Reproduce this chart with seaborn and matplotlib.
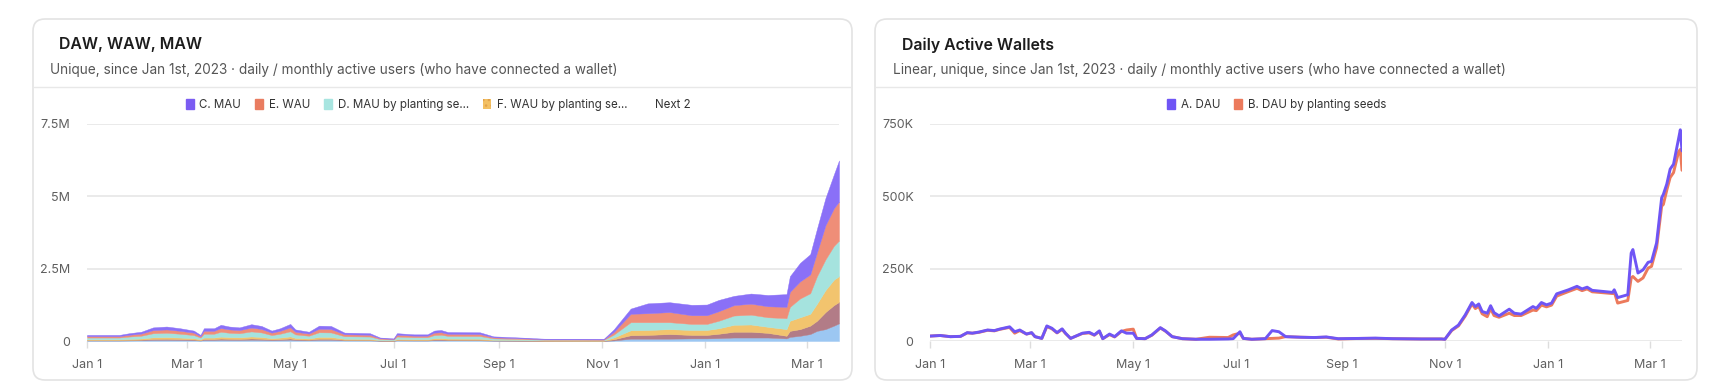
import numpy as np
import pandas as pd
import seaborn as sns
import matplotlib.pyplot as plt
import matplotlib.dates as mdates
from matplotlib.patches import FancyBboxPatch, Patch
from matplotlib.ticker import FuncFormatter

START = pd.Timestamp('2023-01-01')

# left chart: stacked layers, thousands of wallets, days counted from Jan 1 2023
stack_days = [0, 19, 25, 32, 39, 47, 55, 63, 67, 69,
              75, 79, 84, 90, 97, 103, 109, 114, 120, 123,
              131, 137, 144, 152, 167, 173, 181, 183, 193, 201,
              205, 209, 213, 232, 240, 256, 270, 302, 305, 311,
              321, 331, 344, 357, 366, 373, 382, 392, 402, 413,
              415, 421, 427, 431, 436, 441, 444]
next_a = [17, 17, 22, 26, 38, 40, 35, 29, 17, 35,
          35, 45, 40, 38, 46, 42, 29, 35, 47, 32,
          26, 42, 42, 23, 22, 10, 7, 22, 18, 18,
          29, 30, 25, 24, 13, 10, 6, 6, 6, 20,
          80, 80, 80, 90, 90, 100, 120, 120, 120, 90,
          140, 180, 240, 350, 410, 530, 610]
next_b = [15, 15, 19, 22, 33, 35, 31, 25, 15, 31,
          31, 39, 35, 33, 41, 36, 25, 31, 41, 28,
          22, 37, 36, 20, 19, 8, 6, 19, 16, 16,
          25, 27, 22, 21, 11, 8, 6, 5, 5, 40,
          120, 130, 160, 120, 120, 150, 200, 200, 160, 90,
          210, 230, 290, 350, 590, 710, 740]
wau_seeds = [25, 25, 32, 38, 56, 60, 53, 43, 25, 53,
             53, 67, 60, 56, 70, 62, 43, 53, 71, 48,
             38, 64, 62, 35, 32, 14, 11, 32, 28, 28,
             43, 46, 37, 36, 19, 14, 10, 8, 8, 60,
             170, 170, 170, 170, 170, 190, 240, 250, 210, 230,
             350, 410, 410, 590, 760, 880, 890]
mau_seeds = [63, 63, 81, 96, 141, 150, 132, 108, 63, 132,
             132, 168, 150, 141, 174, 156, 108, 132, 177, 120,
             96, 159, 156, 87, 81, 36, 27, 81, 69, 69,
             108, 114, 93, 90, 48, 36, 24, 21, 21, 100,
             280, 270, 240, 210, 210, 260, 320, 340, 330, 380,
             480, 650, 710, 950, 1060, 1170, 1230]
wau = [48, 48, 62, 74, 108, 115, 101, 83, 48, 101,
       101, 129, 115, 108, 133, 120, 83, 101, 136, 92,
       74, 122, 120, 67, 62, 28, 21, 62, 53, 53,
       83, 87, 71, 69, 37, 28, 18, 16, 16, 90,
       290, 310, 350, 300, 300, 330, 360, 380, 380, 390,
       520, 590, 650, 820, 1180, 1300, 1350]
mau = [42, 42, 54, 64, 94, 100, 88, 72, 42, 88,
       88, 112, 100, 94, 116, 104, 72, 88, 118, 80,
       64, 106, 104, 58, 54, 24, 18, 54, 46, 46,
       72, 76, 62, 60, 32, 24, 16, 14, 14, 90,
       180, 340, 340, 360, 370, 390, 320, 350, 390, 440,
       540, 640, 700, 820, 940, 1170, 1420]

# right chart: daily active wallets, thousands
dau_days = [0, 6, 12, 18, 22, 25, 29, 34, 38, 41,
            47, 50, 53, 57, 60, 62, 66, 69, 72, 75,
            78, 80, 83, 90, 94, 97, 100, 102, 106, 109,
            113, 116, 120, 122, 127, 131, 136, 139, 143, 149,
            157, 165, 176, 179, 183, 185, 190, 198, 202, 206,
            210, 219, 227, 234, 241, 255, 263, 273, 290, 302,
            304, 308, 312, 316, 320, 322, 324, 326, 329, 331,
            333, 336, 342, 345, 349, 356, 358, 361, 364, 367,
            370, 373, 377, 382, 385, 388, 391, 403, 404, 406,
            412, 414, 415, 418, 421, 424, 426, 429, 432, 433,
            435, 437, 439, 442, 443, 444]
dau = [17, 19, 15, 16, 29, 27, 31, 38, 36, 41,
       49, 32, 38, 24, 29, 15, 9, 52, 44, 29,
       42, 27, 9, 27, 30, 21, 35, 8, 24, 15,
       35, 27, 27, 9, 8, 21, 46, 35, 15, 8,
       6, 6, 7, 8, 32, 9, 6, 8, 36, 32,
       15, 13, 12, 14, 8, 9, 10, 8, 7, 7,
       6, 38, 55, 90, 133, 119, 128, 102, 96, 122,
       98, 87, 110, 96, 93, 119, 113, 133, 125, 131,
       163, 169, 177, 189, 180, 186, 175, 168, 177, 150,
       160, 304, 316, 235, 246, 272, 275, 339, 495, 507,
       542, 594, 611, 700, 730, 657]
dau_seeds = [17, 19, 15, 16, 28, 27, 30, 37, 35, 40,
             47, 27, 36, 24, 28, 15, 9, 50, 42, 28,
             40, 26, 9, 26, 28, 20, 33, 8, 22, 14,
             33, 38, 41, 9, 8, 20, 45, 34, 15, 8,
             6, 13, 12, 21, 27, 9, 6, 8, 9, 10,
             15, 13, 12, 13, 7, 9, 9, 8, 7, 7,
             6, 36, 52, 86, 128, 112, 120, 94, 84, 112,
             88, 82, 96, 88, 88, 107, 105, 124, 118, 124,
             155, 162, 171, 182, 174, 180, 170, 164, 170, 131,
             140, 218, 223, 206, 218, 252, 258, 322, 466, 472,
             521, 565, 582, 654, 662, 590]

stack_dates = START + pd.to_timedelta(stack_days, unit='D')
dau_dates = START + pd.to_timedelta(dau_days, unit='D')

# bottom to top
layers = [next_a, next_b, wau_seeds, mau_seeds, wau, mau]
layer_colors = ['#9CC7F2', '#B27C87', '#F2C46E', '#A5E3DE', '#EF8E78', '#8A70F7']

sns.set_theme(style='white')
plt.rcParams['font.family'] = ['Inter', 'DejaVu Sans']

fig = plt.figure(figsize=(17.2, 3.91), dpi=100)

# pixel-space background for the two cards
bg = fig.add_axes([0, 0, 1, 1], zorder=-1)
bg.set_xlim(0, 1720)
bg.set_ylim(391, 0)
bg.axis('off')


def card(x0, x1, title, subtitle, title_x, sub_x):
    bg.add_patch(FancyBboxPatch((x0, 19), x1 - x0, 361,
                                boxstyle='round,pad=0,rounding_size=12',
                                fc='white', ec='#E3E3E3', lw=1.2))
    bg.plot([x0 + 1, x1 - 1], [87, 87], color='#E8E8E8', lw=1)
    bg.text(title_x, 45, title, fontsize=11.4, fontweight='semibold',
            color='#1C1C1C', va='center')
    bg.text(sub_x, 70, subtitle, fontsize=9.8, color='#555555', va='center')


card(33, 852, 'DAW, WAW, MAW',
     'Unique, since Jan 1st, 2023 · daily / monthly active users (who have connected a wallet)',
     59, 50)
card(875, 1697, 'Daily Active Wallets',
     'Linear, unique, since Jan 1st, 2023 · daily / monthly active users (who have connected a wallet)',
     902, 893)


def style_axes(ax, ymax, yticks, fmt):
    ax.set_facecolor('none')
    ax.set_axisbelow(True)
    ax.set_ylim(0, ymax)
    ax.set_yticks(yticks)
    ax.yaxis.set_major_formatter(FuncFormatter(fmt))
    ax.grid(axis='y', color='#E6E6E6', lw=1.2)
    ax.grid(axis='x', visible=False)
    for s in ax.spines.values():
        s.set_visible(False)
    ax.xaxis.set_major_locator(mdates.MonthLocator(bymonth=[1, 3, 5, 7, 9, 11]))
    ax.xaxis.set_major_formatter(mdates.DateFormatter('%b %-d'))
    ax.tick_params(axis='x', bottom=True, length=5, width=1, color='#DDDDDD',
                   pad=8, labelsize=9, labelcolor='#5F5F5F')
    ax.tick_params(axis='y', left=False, length=0, pad=12, labelsize=9,
                   labelcolor='#5F5F5F')
    ax.set_xlabel('')
    ax.set_ylabel('')


legend_kw = dict(loc='center', frameon=False, fontsize=8.3, handlelength=0.7,
                 handleheight=0.9, handletextpad=0.5, columnspacing=1.2,
                 labelcolor='#333333')

# ---- left: stacked areas
ax1 = fig.add_axes([87 / 1720, 1 - 341 / 391, 752 / 1720, 217 / 391])
ax1.stackplot(stack_dates, *[np.array(v) * 1000 for v in layers],
              colors=layer_colors, lw=0.3, edgecolor='face')
ax1.set_xlim(stack_dates[0], stack_dates[-1])
style_axes(ax1, 7.5e6, [0, 2.5e6, 5e6, 7.5e6],
           lambda v, p: '0' if v == 0 else f'{v / 1e6:g}M')

left_handles = [Patch(color='#7B5CF2', label='C. MAU'),
                Patch(color='#E97C60', label='E. WAU'),
                Patch(color='#A8E5E0', label='D. MAU by planting se...'),
                Patch(facecolor='#F3C063', edgecolor='#E2A24A', hatch='...', lw=0,
                      label='F. WAU by planting se...'),
                Patch(color='none', label='Next 2')]
fig.legend(handles=left_handles, bbox_to_anchor=(438 / 1720, 1 - 105 / 391),
           ncol=5, **legend_kw)

# ---- right: DAU lines
ax2 = fig.add_axes([930 / 1720, 1 - 341 / 391, 752 / 1720, 217 / 391])
sns.lineplot(x=dau_dates, y=np.array(dau_seeds) * 1000, ax=ax2, color='#EC7A5C', lw=2.1)
sns.lineplot(x=dau_dates, y=np.array(dau) * 1000, ax=ax2, color='#6F55F5', lw=2.1)
ax2.set_xlim(dau_dates[0], dau_dates[-1])
style_axes(ax2, 750e3, [0, 250e3, 500e3, 750e3],
           lambda v, p: '0' if v == 0 else f'{v / 1e3:g}K')

right_handles = [Patch(color='#6F55F5', label='A. DAU'),
                 Patch(color='#EC7A5C', label='B. DAU by planting seeds')]
fig.legend(handles=right_handles, bbox_to_anchor=(1277 / 1720, 1 - 105 / 391),
           ncol=2, **legend_kw)

fig.savefig('out.png', dpi=100)
